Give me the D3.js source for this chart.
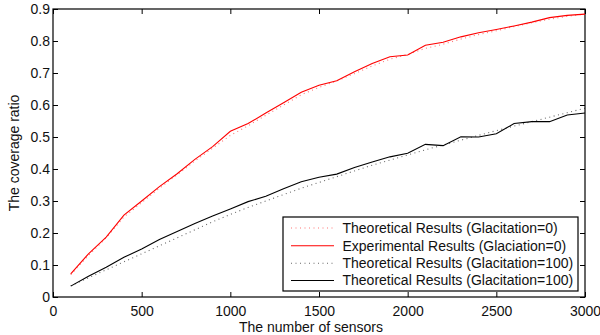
<!DOCTYPE html>
<html><head><meta charset="utf-8">
<script src="https://d3js.org/d3.v7.min.js"></script>
<style>body{margin:0;background:#fff}svg{display:block;font-family:"Liberation Sans",Arial,Helvetica,sans-serif}</style>
</head><body><svg id="c" width="600" height="335"></svg>
<script>
const sensors = [100,200,300,400,500,600,700,800,900,1000,1100,1200,1300,1400,1500,1600,1700,1800,1900,2000,2100,2200,2300,2400,2500,2600,2700,2800,2900,3000];
const theo0 = [0.07,0.13,0.185,0.25,0.295,0.34,0.382,0.425,0.465,0.505,0.535,0.568,0.6,0.632,0.655,0.675,0.698,0.722,0.743,0.758,0.777,0.79,0.806,0.82,0.832,0.845,0.857,0.868,0.877,0.884];
const exp0 = [0.072,0.135,0.187,0.256,0.3,0.345,0.385,0.43,0.47,0.518,0.542,0.575,0.607,0.64,0.662,0.676,0.704,0.73,0.751,0.756,0.787,0.796,0.813,0.826,0.836,0.847,0.859,0.873,0.88,0.884];
const theo100 = [0.035,0.06,0.085,0.11,0.135,0.16,0.185,0.21,0.235,0.258,0.28,0.3,0.32,0.34,0.358,0.376,0.394,0.412,0.428,0.444,0.46,0.475,0.49,0.505,0.52,0.534,0.548,0.562,0.576,0.59];
const exp100 = [0.034,0.065,0.093,0.124,0.15,0.18,0.205,0.23,0.253,0.275,0.298,0.315,0.338,0.36,0.374,0.384,0.405,0.422,0.438,0.449,0.477,0.473,0.501,0.5,0.51,0.542,0.548,0.548,0.569,0.575];
const xTicks = [0,500,1000,1500,2000,2500,3000];
const yTicks = [0,0.1,0.2,0.3,0.4,0.5,0.6,0.7,0.8,0.9];
const legendLabels = ["Theoretical Results (Glacitation=0)","Experimental Results (Glaciation=0)","Theoretical Results (Glacitation=100)","Theoretical Results (Glacitation=100)"];

const series = [
  {vals: theo0, color:"#ff0000", dash:"1,3.5", op:0.55},
  {vals: exp0, color:"#ff0000", dash:null, op:1},
  {vals: theo100, color:"#000", dash:"1,3.5", op:0.6},
  {vals: exp100, color:"#000", dash:null, op:1}
];

const svg = d3.select("#c");
const L=53,R=585,T=9,B=297;
const x = d3.scaleLinear().domain([0,3000]).range([L,R]);
const y = d3.scaleLinear().domain([0,0.9]).range([B,T]);
const fmtY = d => d===0 ? "0" : d3.format(".1f")(d);

svg.append("rect").attr("x",L).attr("y",T).attr("width",R-L).attr("height",B-T).attr("fill","none").attr("stroke","#000").attr("stroke-width",1.2);

const tick = 5;
const ax = svg.append("g").attr("transform",`translate(0,${B})`).call(d3.axisBottom(x).tickValues(xTicks).tickSize(-tick).tickPadding(9).tickFormat(d3.format("d")));
const ay = svg.append("g").attr("transform",`translate(${L},0)`).call(d3.axisLeft(y).tickValues(yTicks).tickSize(-tick).tickPadding(3).tickFormat(fmtY));
const at = svg.append("g").attr("transform",`translate(0,${T})`).call(d3.axisTop(x).tickValues(xTicks).tickSize(-tick).tickFormat(""));
const ar = svg.append("g").attr("transform",`translate(${R},0)`).call(d3.axisRight(y).tickValues(yTicks).tickSize(-tick).tickFormat(""));
[ax,ay,at,ar].forEach(g=>{g.select(".domain").remove();g.selectAll("line").attr("stroke","#000");g.selectAll("text").attr("font-size",14).attr("fill","#111").attr("font-family","Liberation Sans, Arial, sans-serif");});

const line = d3.line().x((d,i)=>x(sensors[i])).y(d=>y(d));
series.forEach(s=>{
  const p = svg.append("path").datum(s.vals).attr("d",line).attr("fill","none").attr("stroke",s.color).attr("stroke-width",1.1).attr("stroke-opacity",s.op);
  if(s.dash) p.attr("stroke-dasharray",s.dash);
});

svg.append("text").attr("x",311).attr("y",332).attr("text-anchor","middle").attr("font-size",14).attr("fill","#111").text("The number of sensors");
svg.append("text").attr("transform","translate(19,153) rotate(-90)").attr("text-anchor","middle").attr("font-size",14).attr("fill","#111").text("The coverage ratio");

const lg = svg.append("g");
lg.append("rect").attr("x",283).attr("y",217).attr("width",295).attr("height",74).attr("fill","#fff").attr("stroke","#000").attr("stroke-width",1.2);
const rowsY = [228,245.7,263.3,280.5];
series.forEach((s,i)=>{
  const l = lg.append("line").attr("x1",291).attr("x2",334).attr("y1",rowsY[i]).attr("y2",rowsY[i]).attr("stroke",s.color).attr("stroke-width",1.1).attr("stroke-opacity",s.op);
  if(s.dash) l.attr("stroke-dasharray",s.dash);
  lg.append("text").attr("x",342.5).attr("y",rowsY[i]).attr("dy","0.35em").attr("font-size",14).attr("fill","#111").text(legendLabels[i]);
});
</script></body></html>
